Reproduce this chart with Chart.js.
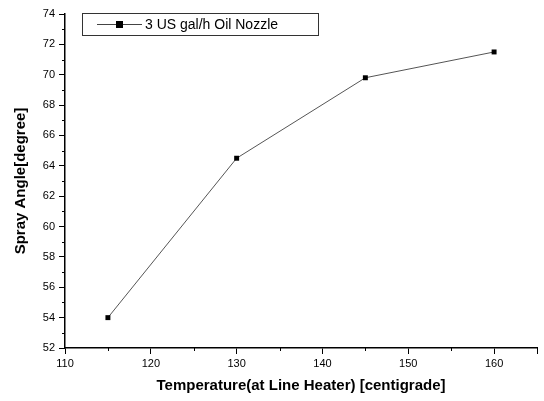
<!DOCTYPE html>
<html>
<head>
<meta charset="utf-8">
<script src="https://cdn.jsdelivr.net/npm/chart.js@4/dist/chart.umd.min.js"></script>
<style>
  html, body { margin: 0; padding: 0; background: #fff; }
  #wrap { width: 544px; height: 401px; }
</style>
</head>
<body>
<div id="wrap"><canvas id="sprayChart" width="544" height="401"></canvas></div>
<script>
// datos
const temperatures = [115, 130, 145, 160];
const sprayAngles = [54.0, 64.5, 69.8, 71.5];
const seriesName = '3 US gal/h Oil Nozzle';
const xTitle = 'Temperature(at Line Heater) [centigrade]';
const yTitle = 'Spray Angle[degree]';

// ticks menores y leyenda dentro del area
const extras = {
  id: 'extras',
  afterDraw(chart) {
    const ctx = chart.ctx;
    const xs = chart.scales.x, ys = chart.scales.y;
    const area = chart.chartArea;
    ctx.save();
    ctx.strokeStyle = '#000';
    ctx.lineWidth = 1;
    ctx.beginPath();
    for (let v = 115; v <= 165; v += 10) {
      const px = Math.round(xs.getPixelForValue(v)) + 0.5;
      ctx.moveTo(px, area.bottom);
      ctx.lineTo(px, area.bottom + 3);
    }
    for (let v = 53; v <= 73; v += 2) {
      const py = Math.round(ys.getPixelForValue(v)) + 0.5;
      ctx.moveTo(area.left, py);
      ctx.lineTo(area.left - 3, py);
    }
    ctx.stroke();

    // leyenda
    ctx.strokeStyle = '#333';
    ctx.strokeRect(82.5, 13.5, 236, 22);
    ctx.strokeStyle = '#444';
    ctx.beginPath();
    ctx.moveTo(97, 24.5);
    ctx.lineTo(142, 24.5);
    ctx.stroke();
    ctx.fillStyle = '#000';
    ctx.fillRect(116, 21, 7, 7);
    ctx.font = '14px "Liberation Sans", Arial, sans-serif';
    ctx.textBaseline = 'middle';
    ctx.fillText(seriesName, 145, 25);
    ctx.restore();
  }
};

new Chart(document.getElementById('sprayChart'), {
  type: 'line',
  data: {
    datasets: [{
      label: seriesName,
      data: temperatures.map((t, i) => ({ x: t, y: sprayAngles[i] })),
      borderColor: '#555',
      borderWidth: 1,
      pointStyle: 'rect',
      pointRadius: 3.5,
      pointBackgroundColor: '#000',
      pointBorderColor: '#000',
      pointBorderWidth: 0,
      tension: 0
    }]
  },
  options: {
    responsive: false,
    animation: false,
    layout: { padding: { left: 0, right: 7, top: 14, bottom: 0 } },
    plugins: { legend: { display: false }, tooltip: { enabled: false } },
    scales: {
      x: {
        type: 'linear',
        min: 110, max: 165,
        afterFit(s) { s.height = 53; },
        ticks: {
          stepSize: 10,
          color: '#000',
          font: { family: '"Liberation Sans", Arial, sans-serif', size: 11 },
          padding: 3,
          callback: v => (v % 10 === 0 && v <= 160) ? v : ''
        },
        grid: { drawOnChartArea: false, tickLength: 6, color: '#000', tickWidth: 1 },
        border: { color: '#000', width: 1.5 },
        title: {
          display: true, text: xTitle, color: '#000',
          font: { family: '"Liberation Sans", Arial, sans-serif', size: 15, weight: 'bold' },
          padding: { top: 4, bottom: 6 }
        }
      },
      y: {
        type: 'linear',
        min: 52, max: 74,
        afterFit(s) { s.width = 65; },
        ticks: {
          stepSize: 2,
          color: '#000',
          font: { family: '"Liberation Sans", Arial, sans-serif', size: 11 },
          padding: 4
        },
        grid: { drawOnChartArea: false, tickLength: 6, color: '#000', tickWidth: 1 },
        border: { color: '#000', width: 1.5 },
        title: {
          display: true, text: yTitle, color: '#000',
          font: { family: '"Liberation Sans", Arial, sans-serif', size: 15, weight: 'bold' },
          padding: { top: 12, bottom: 4 }
        }
      }
    }
  },
  plugins: [extras]
});
</script>
</body>
</html>
